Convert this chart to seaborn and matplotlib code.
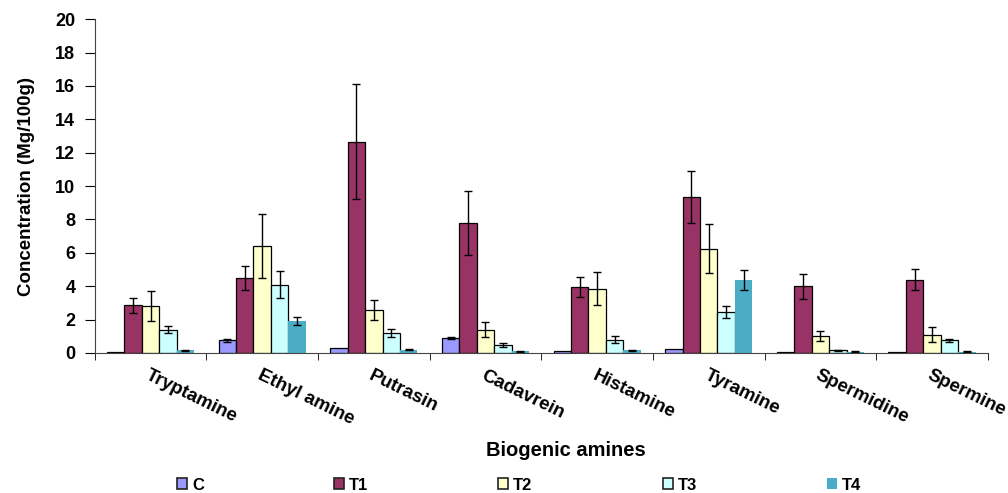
import numpy as np
import pandas as pd
import matplotlib
matplotlib.use("Agg")
import matplotlib.pyplot as plt
import seaborn as sns

amines = ['Tryptamine', 'Ethyl amine', 'Putrasin', 'Cadavrein', 'Histamine',
          'Tyramine', 'Spermidine', 'Spermine']
groups = ['C', 'T1', 'T2', 'T3', 'T4']

c_vals = [0.05, 0.75, 0.28, 0.90, 0.10, 0.22, 0.05, 0.05]
t1_vals = [2.85, 4.50, 12.65, 7.80, 3.95, 9.35, 4.00, 4.40]
t2_vals = [2.80, 6.40, 2.60, 1.40, 3.85, 6.25, 1.00, 1.10]
t3_vals = [1.40, 4.10, 1.20, 0.45, 0.80, 2.45, 0.15, 0.75]
t4_vals = [0.15, 1.90, 0.20, 0.10, 0.15, 4.40, 0.08, 0.08]

c_err = [0.00, 0.08, 0.00, 0.05, 0.00, 0.00, 0.00, 0.00]
t1_err = [0.45, 0.70, 3.45, 1.90, 0.60, 1.55, 0.75, 0.65]
t2_err = [0.90, 1.90, 0.60, 0.45, 1.00, 1.45, 0.30, 0.45]
t3_err = [0.20, 0.80, 0.25, 0.12, 0.20, 0.35, 0.03, 0.10]
t4_err = [0.03, 0.25, 0.05, 0.03, 0.03, 0.60, 0.02, 0.02]

colors = ['#9999FF', '#993366', '#FFFFCC', '#CCFFFF', '#4BACC6']

vals = [c_vals, t1_vals, t2_vals, t3_vals, t4_vals]
errs = [c_err, t1_err, t2_err, t3_err, t4_err]
df = pd.DataFrame({
    'amine': np.tile(amines, len(groups)),
    'group': np.repeat(groups, len(amines)),
    'conc': np.concatenate(vals),
})

plt.rcParams['font.family'] = ['Liberation Sans', 'DejaVu Sans']
plt.rcParams['font.weight'] = 'bold'

fig = plt.figure(figsize=(10.08, 4.93), dpi=100)
ax = fig.add_axes([0.094, 0.284, 0.886, 0.677])

sns.barplot(data=df, x='amine', y='conc', hue='group', order=amines,
            hue_order=groups, palette=colors, width=0.78, gap=0,
            errorbar=None, saturation=1, ax=ax, legend=True)

bar_groups = list(ax.containers)
for i, cont in enumerate(bar_groups):
    for j, p in enumerate(cont.patches):
        if i < 4:
            p.set_edgecolor('black')
            p.set_linewidth(0.9)
        else:
            p.set_edgecolor('none')
        e = errs[i][j]
        if e > 0:
            ax.errorbar(p.get_x() + p.get_width() / 2, p.get_height(), yerr=e,
                        fmt='none', ecolor='black', elinewidth=1, capsize=3,
                        capthick=1)

ax.set_ylim(0, 20)
ax.set_yticks(np.arange(0, 21, 2))
ax.set_xlim(-0.5, len(amines) - 0.5)
ax.set_xticks(np.arange(len(amines)))
ax.set_xticklabels(amines, rotation=-26, ha='left', rotation_mode='anchor',
                   fontsize=13.5, fontweight='bold')
ax.tick_params(axis='x', length=0, pad=10)
ax.set_xticks(np.arange(len(amines) + 1) - 0.5, minor=True)
ax.tick_params(axis='x', which='minor', length=5, direction='out')
ax.tick_params(axis='y', length=7, labelsize=13, pad=7)
for lbl in ax.get_yticklabels():
    lbl.set_fontweight('bold')

for s in ['top', 'right']:
    ax.spines[s].set_visible(False)
ax.spines['left'].set_color('#444444')
ax.spines['bottom'].set_color('#444444')

ax.set_ylabel('Concentration (Mg/100g)', fontsize=13.5, fontweight='bold')
ax.yaxis.set_label_coords(-0.067, 0.5)
ax.set_xlabel('Biogenic amines', fontsize=14.5, fontweight='bold')
ax.xaxis.set_label_coords(0.527, -0.263)

handles, labels = ax.get_legend_handles_labels()
for h, fc in zip(handles, colors):
    h.set_facecolor(fc)
    h.set_edgecolor('none' if fc == colors[-1] else '#222222')
    h.set_linewidth(1.2)
ax.get_legend().remove()
fig.legend(handles, labels, loc='center', bbox_to_anchor=(0.515, 0.016),
           ncol=5, frameon=False, handlelength=0.6, handleheight=0.6,
           columnspacing=7.8, handletextpad=0.3, fontsize=12)

fig.savefig('out.png', dpi=100)
